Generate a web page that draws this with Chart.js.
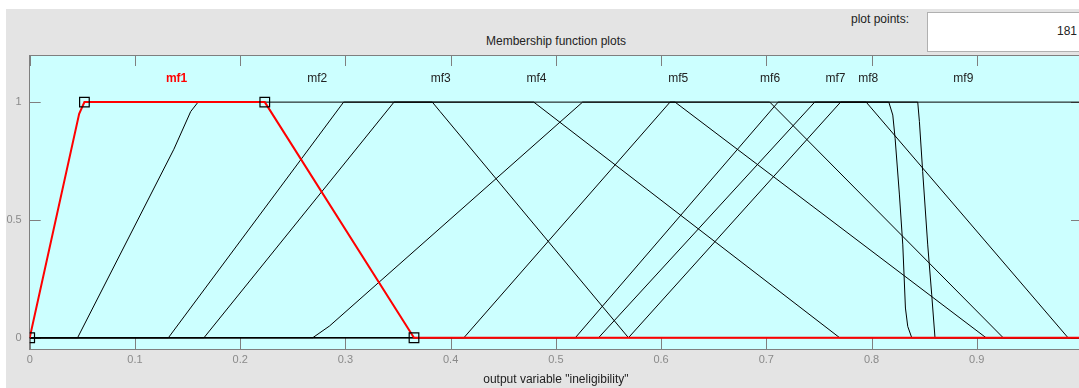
<!DOCTYPE html>
<html>
<head>
<meta charset="utf-8">
<script src="https://cdn.jsdelivr.net/npm/chart.js@4.4.1/dist/chart.umd.min.js"></script>
<style>
  html, body { margin: 0; padding: 0; background: #fff; overflow: hidden; }
  #painel { position: absolute; left: 6px; top: 9px; width: 1100px; height: 400px; background: #e4e4e4; }
  #caixa { position: absolute; left: 0; top: 0; width: 1090px; height: 388px; }
  .txt { position: absolute; font-family: "Liberation Sans", Arial, sans-serif; font-size: 12px; line-height: 14px; color: #222; white-space: nowrap; }
  #titulo { left: 556px; top: 34px; transform: translateX(-50%); }
  #pp { left: 851px; top: 12px; }
  #ppBox { position: absolute; left: 927px; top: 12px; width: 170px; height: 38px; background: #fff; border: 1px solid #b0b0b0; }
  #ppVal { right: 2px; top: 24px; }
</style>
</head>
<body>
<div id="painel"></div>
<div class="txt" id="titulo">Membership function plots</div>
<div class="txt" id="pp">plot points:</div>
<div id="ppBox"></div>
<div class="txt" id="ppVal">181</div>
<div id="caixa"><canvas id="grafico" width="1090" height="388"></canvas></div>

<script>
// funcoes de pertinencia da variavel de saida
const nomesMF = ['mf1', 'mf2', 'mf3', 'mf4', 'mf5', 'mf6', 'mf7', 'mf8', 'mf9'];

// mf1 (selecionada): trapezio [a b c d]
const paramsMF1 = [0, 0.052, 0.2234, 0.3652];

const mf2 = [[0, 0], [0.0455, 0], [0.137, 0.8], [0.153, 0.96], [0.16, 1], [0.3826, 1], [0.39, 0.96], [0.569, 0], [1, 0]];
const mf3 = [[0, 0], [0.1318, 0], [0.2983, 1], [0.479, 1], [0.7697, 0], [1, 0]];
const mf4 = [[0, 0], [0.1656, 0], [0.3462, 1], [0.6133, 1], [0.9088, 0], [1, 0]];
const mf5 = [[0, 0], [0.269, 0], [0.285, 0.05], [0.5254, 1], [0.7033, 1], [0.9251, 0], [1, 0]];
const mf6 = [[0, 0], [0.4126, 0], [0.6085, 1], [0.7949, 1], [0.9867, 0], [1, 0]];
const mf7 = [[0, 0], [0.5185, 0], [0.7112, 1], [0.8164, 1], [0.8202, 0.945], [0.8224, 0.846], [0.8265, 0.606], [0.8297, 0.394], [0.8322, 0.126], [0.8344, 0.048], [0.8382, 0], [1, 0]];
const mf8 = [[0, 0], [0.5406, 0], [0.746, 1], [0.8439, 1], [0.8455, 0.917], [0.8486, 0.705], [0.8534, 0.394], [0.8572, 0.182], [0.8603, 0], [1, 0]];
const mf9 = [[0, 0], [0.569, 0], [0.7706, 1], [1, 1]];

const ticksX = [0, 0.1, 0.2, 0.3, 0.4, 0.5, 0.6, 0.7, 0.8, 0.9, 1];
const ticksY = [0, 0.5, 1];

const mf1 = [[paramsMF1[0], 0], [0.047, 0.95], [paramsMF1[1], 1], [paramsMF1[2], 1], [paramsMF1[3], 0], [1, 0]];
const todasMF = [mf1, mf2, mf3, mf4, mf5, mf6, mf7, mf8, mf9];

function paraPontos(lista) {
  return lista.map(p => ({ x: p[0], y: p[1] }));
}

// centro do patamar (onde vale 1) -> posicao do rotulo
function centroMF(lista) {
  const uns = lista.filter(p => p[1] === 1).map(p => p[0]);
  return (Math.min(...uns) + Math.max(...uns)) / 2;
}

const cinza = '#7f7f7f';
const fonte = '"Liberation Sans", Arial, sans-serif';

const datasets = [];
// quadrados de selecao por cima de tudo
datasets.push({
  data: [[paramsMF1[0], 0], [paramsMF1[1], 1], [paramsMF1[2], 1], [paramsMF1[3], 0]].map(p => ({ x: p[0], y: p[1] })),
  showLine: false,
  pointStyle: 'rect',
  pointRadius: 6.8,
  pointBorderColor: '#000',
  pointBackgroundColor: 'rgba(0,0,0,0)',
  pointBorderWidth: 1.2,
  clip: 0
});
todasMF.forEach((lista, i) => {
  datasets.push({
    label: nomesMF[i],
    data: paraPontos(lista),
    showLine: true,
    borderColor: i === 0 ? '#ff0000' : '#000',
    borderWidth: i === 0 ? 2 : 1,
    pointRadius: 0,
    tension: 0,
    clip: 0
  });
});

const moldura = {
  id: 'moldura',
  beforeDraw(chart) {
    const { ctx, chartArea: a } = chart;
    ctx.save();
    ctx.fillStyle = '#ccffff';
    ctx.fillRect(a.left, a.top, a.right - a.left, a.bottom - a.top);
    ctx.restore();
  },
  beforeDatasetsDraw(chart) {
    const { ctx, chartArea: a, scales } = chart;
    ctx.save();
    ctx.strokeStyle = cinza;
    ctx.lineWidth = 1;
    ctx.beginPath();
    ticksX.forEach(v => {
      const x = Math.round(scales.x.getPixelForValue(v)) + 0.5;
      ctx.moveTo(x, a.top); ctx.lineTo(x, a.top + 11);
      ctx.moveTo(x, a.bottom); ctx.lineTo(x, a.bottom - 12);
    });
    ticksY.forEach(v => {
      const y = Math.round(scales.y.getPixelForValue(v)) + 0.5;
      ctx.moveTo(a.left, y); ctx.lineTo(a.left + 11, y);
      ctx.moveTo(a.right, y); ctx.lineTo(a.right - 11, y);
    });
    ctx.stroke();
    ctx.strokeRect(Math.round(a.left) - 0.5, Math.round(a.top) + 0.5, a.right - a.left, Math.round(a.bottom - a.top) - 1);
    ctx.restore();
  },
  afterDatasetsDraw(chart) {
    const { ctx, scales } = chart;
    ctx.save();
    ctx.textAlign = 'center';
    ctx.textBaseline = 'middle';
    todasMF.forEach((lista, i) => {
      const x = scales.x.getPixelForValue(centroMF(lista)) + 2;
      ctx.font = (i === 0 ? 'bold ' : '') + '12px ' + fonte;
      ctx.fillStyle = i === 0 ? '#ff0000' : '#222';
      ctx.fillText(nomesMF[i], x, 79);
    });
    ctx.restore();
  }
};

new Chart(document.getElementById('grafico'), {
  type: 'scatter',
  data: { datasets: datasets },
  options: {
    responsive: false,
    animation: false,
    layout: { padding: { top: 55, right: 5, left: 0, bottom: 0 } },
    plugins: { legend: { display: false }, tooltip: { enabled: false } },
    scales: {
      x: {
        type: 'linear',
        min: 0,
        max: 1,
        grid: { display: false, drawTicks: false },
        border: { display: false },
        afterBuildTicks: s => { s.ticks = ticksX.map(v => ({ value: v })); },
        afterFit: s => { s.height = 38.5; },
        ticks: {
          padding: 4,
          color: '#8a8a8a',
          font: { family: fonte, size: 11 },
          callback: v => String(Math.round(v * 10) / 10)
        },
        title: {
          display: true,
          text: 'output variable "ineligibility"',
          color: '#222',
          font: { family: fonte, size: 12 },
          padding: { top: 0, bottom: 1 }
        }
      },
      y: {
        type: 'linear',
        min: -0.05,
        max: 1.2,
        grid: { display: false, drawTicks: false },
        border: { display: false },
        afterBuildTicks: s => { s.ticks = ticksY.map(v => ({ value: v })); },
        afterFit: s => { s.width = 29.7; },
        ticks: {
          padding: 8,
          color: '#8a8a8a',
          font: { family: fonte, size: 11 },
          callback: v => String(v)
        }
      }
    }
  },
  plugins: [moldura]
});
</script>
</body>
</html>
